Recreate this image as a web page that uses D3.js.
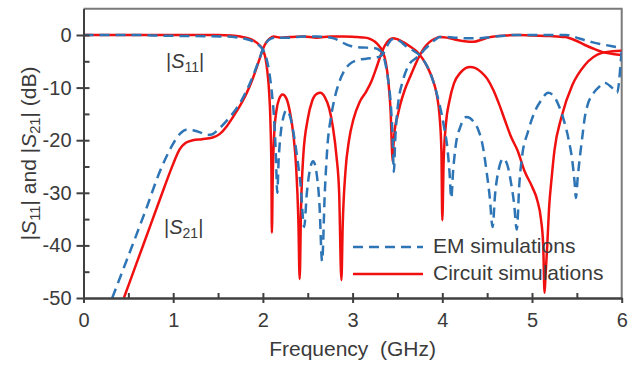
<!DOCTYPE html>
<html>
<head>
<meta charset="utf-8">
<script src="https://cdn.jsdelivr.net/npm/d3@7"></script>
<style>
  body { margin: 0; background: #fff; }
  text { font-family: "Liberation Sans", Arial, sans-serif; fill: #3a3a3a; }
</style>
</head>
<body>
<div id="chart"></div>
<script>
const freqTicks = [0, 1, 2, 3, 4, 5, 6]
const dbTicks = [0, -10, -20, -30, -40, -50]
const legendLabels = ["EM simulations", "Circuit simulations"]

// [frequency GHz, dB]
const s11Circuit = [[0,0],[0.5,0],[1.0,0],[1.5,0],[1.65,-0.1],[1.75,-0.3],[1.83,-0.6],[1.9,-1.1],[1.96,-1.9],[2.0,-2.8],[2.03,-4.5],[2.05,-7],[2.07,-11],[2.085,-17],[2.095,-26],[2.1,-37.6],[2.11,-27],[2.125,-19],[2.15,-14.5],[2.18,-12.2],[2.22,-11.3],[2.26,-12],[2.3,-14.5],[2.34,-19],[2.37,-25],[2.395,-35],[2.41,-46.4],[2.425,-33],[2.45,-23],[2.5,-16],[2.55,-12.5],[2.6,-11.2],[2.64,-11],[2.69,-11.8],[2.74,-14],[2.78,-17.5],[2.82,-23],[2.85,-30],[2.875,-46.6],[2.89,-36],[2.92,-26],[2.96,-20],[3.01,-16],[3.08,-12.7],[3.15,-10.8],[3.21,-8.8],[3.26,-6.5],[3.31,-4],[3.36,-2],[3.41,-0.9],[3.45,-0.6],[3.5,-0.8],[3.57,-1.4],[3.65,-2.3],[3.72,-3.2],[3.78,-4.5],[3.84,-6.3],[3.9,-8.8],[3.94,-11.5],[3.97,-15.5],[3.99,-22],[4.0,-35.2],[4.015,-24],[4.04,-17],[4.08,-12.5],[4.13,-9.2],[4.2,-7.2],[4.26,-6.3],[4.31,-6.1],[4.37,-6.3],[4.43,-7],[4.5,-8.3],[4.57,-10.5],[4.63,-13],[4.7,-16.3],[4.77,-19.5],[4.84,-22],[4.92,-26],[5.0,-28.8],[5.06,-31.5],[5.1,-35],[5.125,-40],[5.14,-49],[5.15,-46],[5.17,-40],[5.19,-33],[5.22,-27],[5.25,-22],[5.33,-15.5],[5.45,-9.5],[5.59,-5.7],[5.78,-3.4],[5.9,-3.1],[6.0,-3.0]]
const s21Circuit = [[0.45,-50],[0.6,-43],[0.75,-36],[0.9,-29],[1.0,-24.5],[1.07,-21.8],[1.14,-20.5],[1.22,-20],[1.32,-19.8],[1.44,-19.5],[1.52,-18.8],[1.6,-17.3],[1.67,-15.5],[1.75,-13.3],[1.82,-11],[1.88,-8.6],[1.93,-6.2],[1.97,-4.2],[2.0,-2.7],[2.04,-1.3],[2.08,-0.6],[2.12,-0.3],[2.2,-0.5],[2.3,-0.4],[2.45,-0.3],[2.6,-0.5],[2.75,-0.3],[2.9,-0.3],[3.05,-0.4],[3.14,-0.5],[3.2,-0.8],[3.25,-1.3],[3.3,-2.2],[3.34,-3.3],[3.37,-5.2],[3.39,-7.5],[3.41,-11],[3.425,-15],[3.435,-20],[3.445,-24],[3.455,-21],[3.47,-18],[3.5,-15.5],[3.53,-13.3],[3.58,-10.5],[3.64,-8],[3.7,-5.6],[3.75,-3.8],[3.8,-2.4],[3.86,-1.3],[3.92,-0.7],[3.97,-0.4],[4.05,-0.5],[4.15,-0.9],[4.25,-1.2],[4.35,-1.3],[4.45,-0.8],[4.53,-0.4],[4.7,-0.1],[4.85,0],[5.0,-0.1],[5.2,-0.2],[5.37,-0.4],[5.48,-1],[5.59,-1.9],[5.7,-2.7],[5.78,-3.2],[5.9,-3.6],[6.0,-3.8]]
const s11EM = [[0,0],[0.6,0],[0.8,-0.1],[1.2,-0.2],[1.6,-0.3],[1.72,-0.5],[1.82,-0.8],[1.9,-1.3],[1.96,-2],[2.0,-2.8],[2.04,-4.5],[2.07,-7],[2.1,-11],[2.125,-16],[2.145,-23],[2.16,-30],[2.175,-24],[2.2,-18.5],[2.23,-15.5],[2.26,-14.3],[2.3,-15.3],[2.34,-18.5],[2.38,-23],[2.42,-28.5],[2.46,-36.5],[2.49,-30],[2.52,-26],[2.56,-24],[2.6,-26.5],[2.63,-32],[2.66,-43],[2.69,-30],[2.72,-21],[2.76,-15.5],[2.8,-12],[2.85,-9],[2.9,-7],[2.97,-5.5],[3.05,-4.8],[3.15,-4.5],[3.25,-4.3],[3.3,-4.1],[3.34,-3.6],[3.37,-2.6],[3.4,-1.6],[3.44,-0.8],[3.48,-0.7],[3.53,-1.2],[3.6,-2.2],[3.68,-3],[3.75,-3.9],[3.81,-5.3],[3.86,-7],[3.92,-10],[3.97,-13.3],[4.02,-17.5],[4.06,-22],[4.08,-26],[4.1,-31],[4.12,-26],[4.15,-21],[4.2,-17.5],[4.27,-15.6],[4.34,-16.3],[4.4,-18],[4.45,-21],[4.49,-25.5],[4.53,-31],[4.56,-36.5],[4.59,-30],[4.63,-25.5],[4.68,-23.5],[4.73,-25],[4.77,-28.5],[4.8,-32],[4.83,-37],[4.86,-28],[4.89,-23],[4.955,-18.4],[5.03,-14.6],[5.1,-12.5],[5.18,-11],[5.25,-11.8],[5.3,-13.5],[5.36,-16.5],[5.41,-20],[5.45,-24],[5.475,-28],[5.49,-31],[5.51,-27],[5.535,-23],[5.56,-19.5],[5.59,-15.5],[5.62,-13.3],[5.68,-11.2],[5.74,-10],[5.81,-9.1],[5.89,-10],[5.95,-11],[5.97,-9],[5.985,-6],[6.0,-3]]
const s21EM = [[0.32,-50],[0.5,-42],[0.7,-33],[0.85,-26],[0.96,-21.9],[1.03,-19.8],[1.08,-18.7],[1.15,-18],[1.22,-18.1],[1.3,-18.5],[1.37,-19],[1.43,-18.9],[1.5,-18],[1.58,-16.6],[1.67,-14.8],[1.75,-12.8],[1.82,-10.5],[1.88,-8.2],[1.93,-6],[1.97,-4.1],[2.0,-2.7],[2.04,-1.4],[2.09,-0.7],[2.15,-0.5],[2.3,-0.5],[2.45,-0.3],[2.6,-0.3],[2.72,-0.4],[2.8,-0.7],[2.86,-1.2],[2.92,-1.7],[2.98,-2.1],[3.05,-2.3],[3.15,-2.4],[3.25,-2.5],[3.3,-2.9],[3.34,-3.8],[3.37,-5.8],[3.4,-9],[3.425,-13],[3.445,-19],[3.46,-26],[3.475,-20],[3.49,-16],[3.51,-12.7],[3.56,-8.7],[3.63,-5.6],[3.7,-4.5],[3.75,-3.8],[3.8,-2.8],[3.86,-1.8],[3.92,-0.9],[3.97,-0.4],[4.05,-0.4],[4.15,-0.5],[4.25,-0.6],[4.4,-0.6],[4.53,-0.4],[4.65,-0.2],[4.79,0],[5.0,0],[5.2,0],[5.38,0],[5.48,-0.4],[5.59,-1],[5.68,-1.4],[5.76,-1.7],[5.88,-2.1],[6.0,-2.5]]

const red = "#f01010"
const blue = "#2e75b6"
const dash = "10,6"

const svg = d3.select("#chart").append("svg")
  .attr("width", 634)
  .attr("height", 365)

const x = d3.scaleLinear().domain([0, 6]).range([83.5, 621.7])
const y = d3.scaleLinear().domain([-50, 5]).range([298, 8.7])

// frame (top and right)
svg.append("path")
  .attr("d", `M${x(0)},${y(5)}H${x(6)}V${y(-50)}`)
  .attr("fill", "none")
  .attr("stroke", "#7a7a7a")
  .attr("stroke-width", 2)

svg.append("clipPath").attr("id", "plot")
  .append("rect")
  .attr("x", x(0)).attr("y", y(5))
  .attr("width", x(6) - x(0)).attr("height", y(-50) - y(5))

const line = d3.line()
  .x(function(d) { return x(d[0]); })
  .y(function(d) { return y(d[1]); })
  .curve(d3.curveMonotoneX)

const curves = svg.append("g").attr("clip-path", "url(#plot)")
const series = [
  { data: s11Circuit, color: red, dash: null },
  { data: s21Circuit, color: red, dash: null },
  { data: s11EM, color: blue, dash: dash },
  { data: s21EM, color: blue, dash: dash }
]
curves.selectAll("path").data(series).enter()
  .append("path")
  .attr("d", function(d) { return line(d.data); })
  .attr("fill", "none")
  .attr("stroke", function(d) { return d.color; })
  .attr("stroke-width", 2.5)
  .attr("stroke-dasharray", function(d) { return d.dash; })
  .attr("stroke-linejoin", "round")

// axes: outer ticks with labels, plus inner ticks (major + minor)
const axisColor = "#404040"
const plain = function(d) { return String(d); }  // hyphen minus like the original
svg.append("g").attr("transform", `translate(0,${y(-50)})`)
  .call(d3.axisBottom(x).tickValues(freqTicks).tickFormat(plain).tickSize(5).tickPadding(10).tickSizeOuter(0))
svg.append("g").attr("transform", `translate(0,${y(-50)})`)
  .call(d3.axisBottom(x).tickValues(d3.range(0.5, 6, 0.5)).tickSize(-5).tickFormat("").tickSizeOuter(0))
svg.append("g").attr("transform", `translate(${x(0)},0)`)
  .call(d3.axisLeft(y).tickValues(dbTicks).tickFormat(plain).tickSize(7).tickPadding(5).tickSizeOuter(0))
svg.append("g").attr("transform", `translate(${x(0)},0)`)
  .call(d3.axisLeft(y).tickValues(d3.range(-45, 5, 5)).tickSize(-6).tickFormat("").tickSizeOuter(0))

svg.selectAll(".domain, .tick line")
  .attr("stroke", axisColor)
  .attr("stroke-width", 2)
svg.selectAll(".tick text")
  .attr("font-family", "Liberation Sans, Arial, sans-serif")
  .attr("font-size", 20)
  .attr("fill", "#3a3a3a")

// axis titles
svg.append("text")
  .attr("x", x(3)).attr("y", 356)
  .attr("text-anchor", "middle")
  .attr("font-size", 21)
  .attr("xml:space", "preserve")
  .text("Frequency  (GHz)")

function sParam(sel, sub) {
  sel.append("tspan").text("|")
  sel.append("tspan").attr("font-style", "italic").text("S")
  sel.append("tspan").attr("font-size", "0.7em").attr("dy", 4).text(sub)
  sel.append("tspan").attr("dy", -4).text("|")
}

const yTitle = svg.append("text")
  .attr("transform", `translate(36,${(y(5) + y(-50)) / 2}) rotate(-90)`)
  .attr("text-anchor", "middle")
  .attr("font-size", 21)
sParam(yTitle, "11")
yTitle.append("tspan").text(" and ")
sParam(yTitle, "21")
yTitle.append("tspan").text(" (dB)")

// curve annotations
const labS11 = svg.append("text").attr("x", 166).attr("y", 68).attr("font-size", 20)
sParam(labS11, "11")
const labS21 = svg.append("text").attr("x", 164).attr("y", 234).attr("font-size", 20)
sParam(labS21, "21")

// legend
const legend = svg.append("g")
const legendItems = [
  { label: legendLabels[0], color: blue, dash: dash, ly: 247 },
  { label: legendLabels[1], color: red, dash: null, ly: 274 }
]
legend.selectAll("line").data(legendItems).enter()
  .append("line")
  .attr("x1", 353).attr("x2", 423)
  .attr("y1", function(d) { return d.ly; })
  .attr("y2", function(d) { return d.ly; })
  .attr("stroke", function(d) { return d.color; })
  .attr("stroke-width", 2.5)
  .attr("stroke-dasharray", function(d) { return d.dash; })
legend.selectAll("text").data(legendItems).enter()
  .append("text")
  .attr("x", 433)
  .attr("y", function(d) { return d.ly + 6; })
  .attr("font-size", 21)
  .text(function(d) { return d.label; })
</script>
</body>
</html>
